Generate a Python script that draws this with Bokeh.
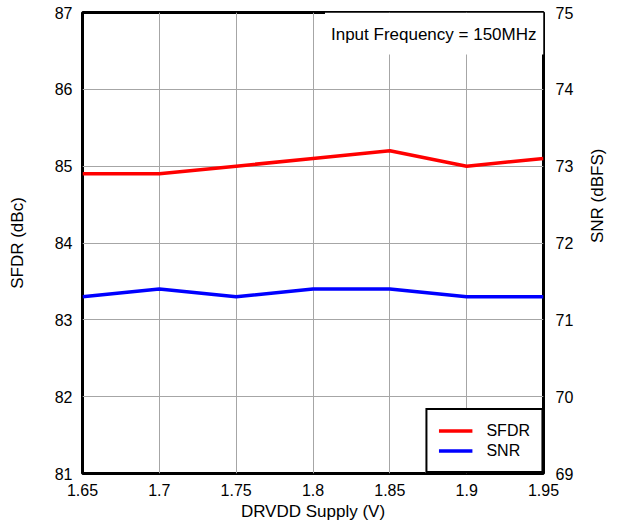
import math
from bokeh.plotting import figure
from bokeh.models import Range1d, LinearAxis, FixedTicker, Label, Legend, LegendItem
from bokeh.embed import file_html
from bokeh.resources import INLINE

# ---- data ----
supply_v = [1.65, 1.70, 1.75, 1.80, 1.85, 1.90, 1.95]
sfdr_dbc = [84.9, 84.9, 85.0, 85.1, 85.2, 85.0, 85.1]
snr_dbfs = [71.3, 71.4, 71.3, 71.4, 71.4, 71.3, 71.3]

x_ticks = [1.65, 1.70, 1.75, 1.80, 1.85, 1.90, 1.95]
x_tick_labels = ["1.65", "1.7", "1.75", "1.8", "1.85", "1.9", "1.95"]
sfdr_ticks = [81, 82, 83, 84, 85, 86, 87]
snr_ticks = [69, 70, 71, 72, 73, 74, 75]

FONT = "Liberation Sans"

p = figure(width=621, height=527, output_backend="svg", toolbar_location=None,
           x_range=Range1d(1.65, 1.95), y_range=Range1d(81, 87),
           min_border_left=82, min_border_right=78, min_border_top=12, min_border_bottom=54)
p.extra_y_ranges = {"snr": Range1d(69, 75)}
p.background_fill_color = "white"
p.border_fill_color = "white"
p.outline_line_color = "black"
p.outline_line_width = 3

# axes
p.xaxis.ticker = FixedTicker(ticks=x_ticks)
p.xaxis.major_label_overrides = {t: l for t, l in zip(x_ticks, x_tick_labels)}
p.xaxis.axis_label = "DRVDD Supply (V)"
p.yaxis.ticker = FixedTicker(ticks=sfdr_ticks)
p.yaxis.axis_label = "SFDR (dBc)"

right = LinearAxis(y_range_name="snr", ticker=FixedTicker(ticks=snr_ticks),
                   axis_label="SNR (dBFS)")
p.add_layout(right, "right")

for ax in p.axis:
    ax.axis_line_color = None
    ax.major_tick_line_color = None
    ax.minor_tick_line_color = None
    ax.major_tick_out = 0
    ax.major_tick_in = 0
    ax.major_label_text_font = FONT
    ax.major_label_text_font_size = "16px"
    ax.major_label_text_color = "black"
    ax.axis_label_text_font = FONT
    ax.axis_label_text_font_size = "17px"
    ax.axis_label_text_font_style = "normal"
    ax.axis_label_text_color = "black"
    ax.major_label_standoff = 10

p.xaxis.axis_label_standoff = 3
p.yaxis.axis_label_standoff = 25
right.major_label_standoff = 12
right.axis_label_standoff = 21
right.axis_label_orientation = math.pi / 2

# grid
p.xgrid.ticker = FixedTicker(ticks=x_ticks)
p.ygrid.ticker = FixedTicker(ticks=sfdr_ticks)
for g in p.grid:
    g.grid_line_color = "#a6a6a6"
    g.grid_line_width = 1

r1 = p.line(supply_v, sfdr_dbc, line_color="#ff0000", line_width=3.5)
r2 = p.line(supply_v, snr_dbfs, line_color="#0000ff", line_width=3.5, y_range_name="snr")

note = Label(x=1.95, y=87, x_offset=0, y_offset=0, text="Input Frequency = 150MHz",
             text_align="right", text_baseline="top", text_font=FONT,
             text_font_size="17px", text_color="black",
             background_fill_color="white", background_fill_alpha=1.0,
             padding=dict(left=6, right=7, top=12, bottom=11))
p.add_layout(note)

legend = Legend(items=[LegendItem(label="SFDR", renderers=[r1]),
                       LegendItem(label="SNR", renderers=[r2])],
                location="bottom_right", margin=0, padding=11,
                glyph_width=34, glyph_height=19, label_height=19, spacing=1,
                label_standoff=14, label_text_font=FONT, label_text_font_size="16px",
                label_text_color="black",
                border_line_color="black", border_line_width=2, border_line_alpha=1.0,
                background_fill_color="white", background_fill_alpha=1.0)
p.add_layout(legend)

open("out.html", "w").write(file_html(p, INLINE))
